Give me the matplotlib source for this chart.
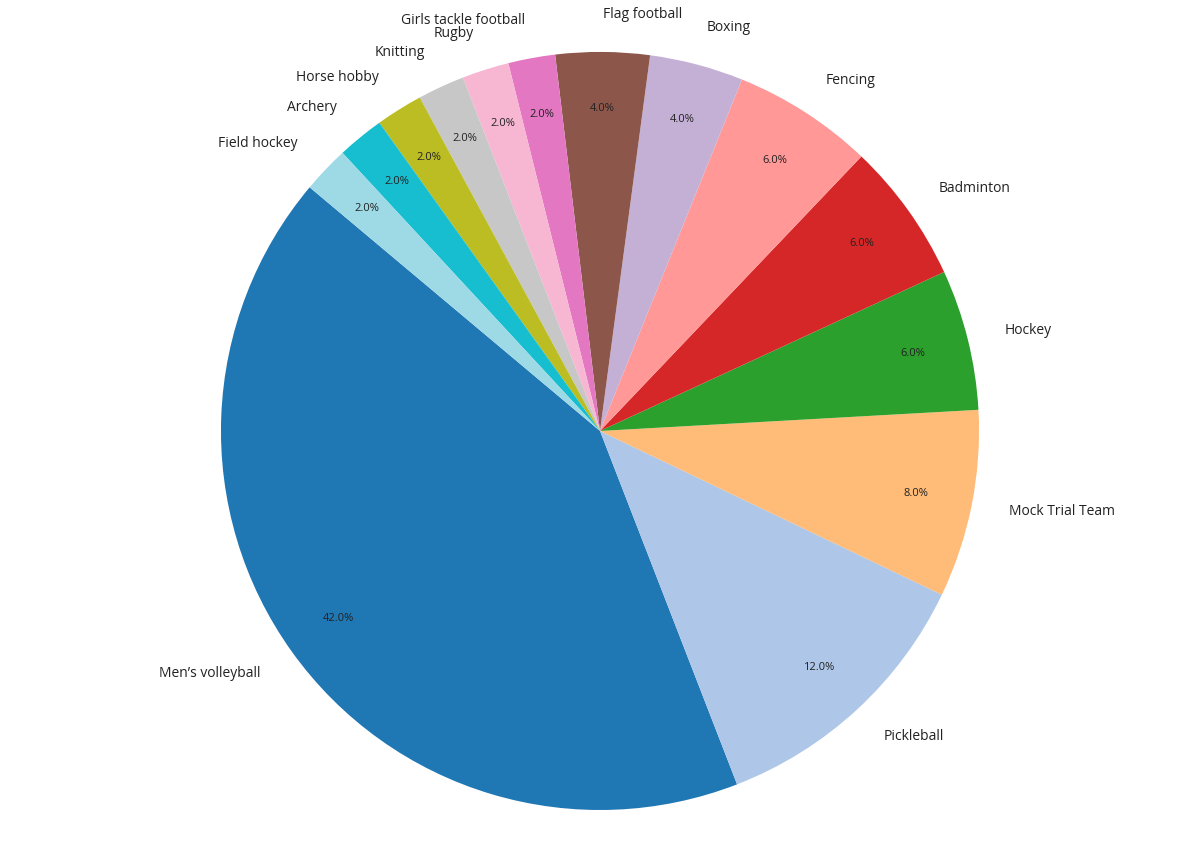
import matplotlib
matplotlib.use("Agg")
import matplotlib.pyplot as plt
import numpy as np

labels = ["Men’s volleyball", "Pickleball", "Mock Trial Team", "Hockey", "Badminton",
          "Fencing", "Boxing", "Flag football", "Girls tackle football", "Rugby",
          "Knitting", "Horse hobby", "Archery", "Field hockey"]
values = [42, 12, 8, 6, 6, 6, 4, 4, 2, 2, 2, 2, 2, 2]

plt.rcParams['font.family'] = ['Open Sans', 'DejaVu Sans']

fig = plt.figure(figsize=(12, 8.57), dpi=100)
ax = fig.add_axes([0, 0, 1, 1])
colors = plt.cm.tab20(np.linspace(0, 1, len(values)))
wedges, texts, autotexts = ax.pie(values, labels=labels, colors=colors, autopct='%1.1f%%',
                                  startangle=140, pctdistance=0.85, labeldistance=1.1,
                                  textprops={'fontsize': 10, 'color': '#222222'})
for t in autotexts:
    t.set_fontsize(8)
ax.set_xlim(-1.583, 1.583)
ax.set_ylim(-1.124, 1.137)
ax.set_aspect('auto')
ax.axis('off')
fig.savefig("out.png", dpi=100)
